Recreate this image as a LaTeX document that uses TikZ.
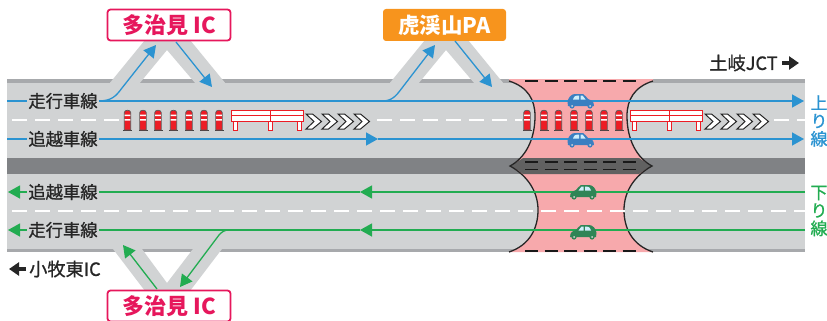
\documentclass[tikz,border=0pt]{standalone}
\usepackage{fontspec}
\setmainfont{Noto Sans CJK JP}
\newfontfamily\heavyfont[FakeBold=1]{Noto Sans CJK JP}
\usetikzlibrary{arrows.meta}
\definecolor{roadgray}{HTML}{D1D3D4}
\definecolor{bandgray}{HTML}{A7A9AC}
\definecolor{mediangray}{HTML}{808285}
\definecolor{zonepink}{HTML}{F7A9AC}
\definecolor{upblue}{HTML}{2B93D1}
\definecolor{downgreen}{HTML}{22AC51}
\definecolor{icpink}{HTML}{E6175C}
\definecolor{paorange}{HTML}{F7941D}
\definecolor{railred}{HTML}{ED1C24}
\definecolor{carblue}{HTML}{3A7FC1}
\definecolor{cargreen}{HTML}{2F8556}
\tikzset{
  lane/.style={fill=roadgray,inner xsep=1pt,inner ysep=0pt,text=black!85,font=\heavyfont\fontsize{17.3}{17}\selectfont},
  place/.style={inner sep=0pt,text=black!85,font=\heavyfont\fontsize{18.2}{18}\selectfont},
  side/.style={inner sep=0pt,font=\heavyfont\fontsize{17}{17}\selectfont},
  icbox/.style={draw=icpink,fill=white,line width=1.8pt,rounded corners=3pt,minimum width=123pt,minimum height=31pt,inner sep=0pt,text=icpink,font=\fontsize{22}{22}\selectfont\bfseries},
  pabox/.style={fill=paorange,rounded corners=3pt,minimum width=123pt,minimum height=32pt,inner sep=0pt,text=white,font=\fontsize{21.5}{22}\selectfont\bfseries},
  upline/.style={draw=upblue,line width=1.3pt},
  downline/.style={draw=downgreen,line width=1.3pt},
  uparrow/.style={upline,-{Triangle[length=12pt,width=13pt]}},
  downarrow/.style={downline,-{Triangle[length=12pt,width=13pt]}},
  bigarrow/.style={draw=black!85,line width=3.6pt,-{Triangle[length=10pt,width=13pt]}},
  whitedash/.style={draw=white,line width=1.6pt,dash pattern=on 15pt off 8pt},
  blackdash/.style={draw=black!90,line width=1.5pt,dash pattern=on 13pt off 6.5pt},
  edgecurve/.style={draw=black!85,line width=1.3pt},
  car/.pic={
    \fill[pic actions] (-13,5) -- (-13.5,1) .. controls (-13,-3) and (-10,-7) .. (-6,-7)
      -- (2,-7) .. controls (4,-6) and (6,-3) .. (7,-2) .. controls (10,-1.5) and (13,0) .. (13,5) -- cycle;
    \fill[white!80!cyan] (-8,-1.5) .. controls (-8,-3) and (-6.5,-5.5) .. (-3,-5.5) -- (-2,-5.5) -- (-2,-1.5) -- cycle;
    \fill[white!80!cyan] (-0.5,-1.5) -- (-0.5,-5.5) -- (1.5,-5.5) -- (4.5,-1.5) -- cycle;
    \fill[pic actions] (-9,5) circle (2.6) (9,5) circle (2.6);
    \fill[white!70!gray] (-9,5) circle (1) (9,5) circle (1);
  },
  delineator/.pic={
    \fill[black!75] (-4.5,9.5) rectangle (4.5,11);
    \draw[black!65,fill=railred,line width=.7pt] (-3.2,10) -- (-3.2,-7.5) .. controls (-3.2,-10.5) and (3.2,-10.5) .. (3.2,-7.5) -- (3.2,10) -- cycle;
    \fill[white] (-2.8,-5.5) rectangle (2.8,-4) (-2.8,-.8) rectangle (2.8,.7);
  },
  guardrail/.pic={
    \foreach \postx in {4,39,68}
      \draw[railred,fill=white,line width=1pt] (\postx-2,11) rectangle (\postx+2,20);
    \draw[railred,fill=white,line width=1pt] (0,0) rectangle (72,5.5);
    \draw[railred,fill=white,line width=1pt] (0,5.5) rectangle (72,11);
    \draw[railred,line width=1pt] (39,0) -- (39,11);
  },
  chevron/.pic={
    \draw[black!85,fill=white,line width=1pt,line join=miter] (0,0) -- (6.5,0) -- (15.5,7.5) -- (6.5,15) -- (0,15) -- (8,7.5) -- cycle;
  },
}
\begin{document}
\begin{tikzpicture}[x=1pt,y=-1pt]
  \useasboundingbox (0,0) rectangle (827,321);

  % road
  \fill[bandgray] (7,79) rectangle (805,252);
  \fill[roadgray] (7,83) rectangle (805,158);
  \fill[roadgray] (7,174) rectangle (805,249);
  \fill[mediangray] (7,158) rectangle (805,174);

  % ramps
  \fill[roadgray] (109,84) -- (145,40) -- (190,40) -- (226,84) -- (196,84) -- (167,50) -- (139,84) -- cycle;
  \fill[roadgray] (389,84) -- (425,40) -- (468,40) -- (504,84) -- (475,84) -- (446,50) -- (418,84) -- cycle;
  \fill[roadgray] (110,245) -- (145,291) -- (190,291) -- (225,245) -- (196,245) -- (167,283) -- (139,245) -- cycle;

  % widened section
  \fill[zonepink] (509,79) -- (509,81) .. controls (528,87) and (535,100) .. (535,116)
    .. controls (535,140) and (525,158) .. (510,166)
    .. controls (528,176) and (538,192) .. (538,210)
    .. controls (538,228) and (530,245) .. (509,252)
    -- (653,252) .. controls (632,245) and (624,228) .. (624,210)
    .. controls (624,192) and (634,176) .. (652,166)
    .. controls (637,158) and (627,140) .. (627,116)
    .. controls (627,100) and (634,87) .. (653,81) -- (653,79) -- cycle;
  \fill[black!62] (523,158) .. controls (519,161) and (515,163) .. (510,166)
    .. controls (515,168) and (519,171) .. (523,174) -- (639,174)
    .. controls (643,171) and (647,168) .. (652,166)
    .. controls (647,163) and (643,161) .. (639,158) -- cycle;
  \draw[edgecurve] (509,81) .. controls (528,87) and (535,100) .. (535,116)
    .. controls (535,140) and (525,158) .. (510,166)
    .. controls (528,176) and (538,192) .. (538,210)
    .. controls (538,228) and (530,245) .. (509,252);
  \draw[edgecurve] (653,81) .. controls (634,87) and (627,100) .. (627,116)
    .. controls (627,140) and (637,158) .. (652,166)
    .. controls (634,176) and (624,192) .. (624,210)
    .. controls (624,228) and (632,245) .. (653,252);
  \foreach \dashy in {81,162,169.5,251}
    \draw[blackdash] (525,\dashy) -- (636,\dashy);

  % lane marks
  \draw[whitedash] (12,120) -- (122,120);
  \draw[whitedash] (377,120) -- (522,120);
  \draw[whitedash] (774,120) -- (805,120);
  \draw[whitedash] (12,211) -- (805,211);

  \foreach \polex in {127.5,143,158,173.5,189,204,219,527,544,558.5,574,589,604,619}
    \pic at (\polex,120) {delineator};
  \pic at (231,110) {guardrail};
  \pic at (630,110) {guardrail};
  \foreach \chevx in {306,322,338,354,705,721,737,753}
    \pic at (\chevx,114) {chevron};

  % named ends
  \coordinate (upstart) at (7,101);
  \coordinate (upend) at (804,101);
  \coordinate (fastart) at (7,139);
  \coordinate (famid) at (378,139);
  \coordinate (faend) at (804,139);
  \coordinate (icoff) at (98,101);
  \coordinate (icofftip) at (156,45);
  \coordinate (paoff) at (360,101);
  \coordinate (paofftip) at (435,45);
  \coordinate (downfast) at (805,192);
  \coordinate (downfastmid) at (360,192);
  \coordinate (downfastend) at (8,192);
  \coordinate (downslow) at (805,230);
  \coordinate (downslowmid) at (360,230);
  \coordinate (downslowend) at (8,230);
  \coordinate (downicoff) at (235,230);
  \coordinate (downicofftip) at (180,287);

  % traffic lines
  \draw[uparrow] (upstart) -- (upend);
  \draw[uparrow] (fastart) -- (famid);
  \draw[uparrow] (famid) -- (faend);
  \draw[uparrow] (icoff) .. controls (112,101) and (116,96) .. (122,88) -- (icofftip);
  \draw[uparrow] (paoff) -- (382,101) .. controls (392,101) and (396,96) .. (402,88) -- (paofftip);
  \draw[downarrow] (downfast) -- (downfastmid);
  \draw[downarrow] (downfastmid) -- (downfastend);
  \draw[downarrow] (downslow) -- (downslowmid);
  \draw[downarrow] (downslowmid) -- (downslowend);
  \draw[downarrow] (downicoff) -- (229,230) .. controls (224,230) and (222,232) .. (219,235) -- (downicofftip);

  \pic[fill=carblue] at (581,101) {car};
  \pic[fill=carblue] at (581,140) {car};
  \pic[fill=cargreen,xscale=-1] at (583,192) {car};
  \pic[fill=cargreen,xscale=-1] at (583,232) {car};

  % boxes
  \node[icbox] (ictop) at (169,25) {多治見 IC};
  \node[pabox] (pabox) at (444.5,25) {虎渓山PA};
  \node[icbox] (icbottom) at (169,306) {多治見 IC};
  \coordinate (icon) at (176,42);
  \coordinate (icontip) at (212,87);
  \coordinate (paon) at (455,41);
  \coordinate (paontip) at (492,87);
  \coordinate (downicon) at (157,289);
  \coordinate (downicontip) at (123,245);
  \draw[uparrow] (icon) -- (icontip);
  \draw[uparrow] (paon) -- (paontip);
  \draw[downarrow] (downicon) -- (downicontip);

  % labels
  \node[lane] (lanea) at (63,101) {走行車線};
  \node[lane] (laneb) at (63,139) {追越車線};
  \node[lane] (lanec) at (63,192) {追越車線};
  \node[lane] (laned) at (63,230) {走行車線};

  \node[place] (toki) at (743.5,63) {土岐JCT};
  \coordinate (tokifrom) at (782,63);
  \coordinate (tokitip) at (799,63);
  \draw[bigarrow] (tokifrom) -- (tokitip);
  \node[place] (komaki) at (65,269) {小牧東IC};
  \coordinate (komakifrom) at (26,269);
  \coordinate (komakitip) at (9,269);
  \draw[bigarrow] (komakifrom) -- (komakitip);

  \node[side,text=upblue,align=center] (upside) at (819,121) {上\\[1pt]り\\[1pt]線};
  \node[side,text=downgreen,align=center] (downside) at (819,211) {下\\[1pt]り\\[1pt]線};
\end{tikzpicture}
\end{document}
